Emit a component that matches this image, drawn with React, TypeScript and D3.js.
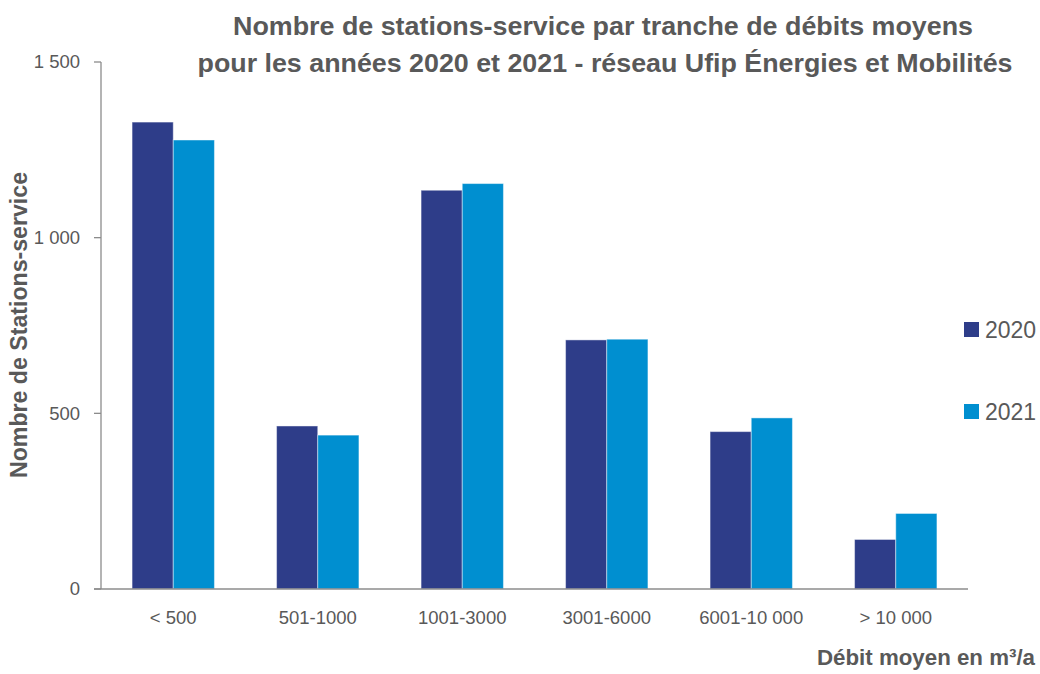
import React, { useEffect, useRef } from "react";
import * as d3 from "d3";

const categories = ["< 500", "501-1000", "1001-3000", "3001-6000", "6001-10 000", "> 10 000"];
const years = ["2020", "2021"];
const values2020 = [1329, 464, 1135, 709, 448, 141];
const values2021 = [1278, 438, 1154, 711, 487, 215];
const yTicks = [0, 500, 1000, 1500];
const colors = ["#2E3D89", "#008FD0"];

const FONT = "'Liberation Sans', Arial, sans-serif";
const GREY = "#595959";

const width = 1040;
const height = 674;

const App = () => {
  const ref = useRef<SVGSVGElement>(null);

  useEffect(() => {
    const svg = d3.select(ref.current);
    svg.selectAll("*").remove();

    const left = 101;
    const right = 968;
    const top = 62;
    const bottom = 589;

    const x = d3.scaleBand().domain(categories).range([left, right]).paddingInner(0.43).paddingOuter(0.215);
    const xs = d3.scaleBand().domain(years).range([0, x.bandwidth()]);
    const y = d3.scaleLinear().domain([0, 1500]).range([bottom, top]);

    const fmt = (v: number) => (v >= 1000 ? d3.format(",")(v).replace(",", " ") : String(v));

    // bars
    const series = [values2020, values2021];
    series.forEach((vals, si) => {
      svg
        .append("g")
        .selectAll("rect")
        .data(vals)
        .enter()
        .append("rect")
        .attr("x", (_d, i) => (x(categories[i]) as number) + (xs(years[si]) as number))
        .attr("y", (d) => y(d))
        .attr("width", xs.bandwidth())
        .attr("height", (d) => bottom - y(d))
        .attr("fill", colors[si])
        .attr("stroke", "rgba(255,255,255,0.45)")
        .attr("stroke-width", 1);
    });

    // y axis
    const yAxis = svg.append("g");
    yAxis
      .append("line")
      .attr("x1", left)
      .attr("x2", left)
      .attr("y1", top)
      .attr("y2", bottom)
      .attr("stroke", "#8c8c8c")
      .attr("stroke-width", 1.3);
    yTicks.forEach((t) => {
      yAxis
        .append("line")
        .attr("x1", left - 7)
        .attr("x2", left)
        .attr("y1", y(t))
        .attr("y2", y(t))
        .attr("stroke", "#8c8c8c")
        .attr("stroke-width", 1.3);
      yAxis
        .append("text")
        .attr("x", 80)
        .attr("y", y(t))
        .attr("dy", "0.35em")
        .attr("text-anchor", "end")
        .attr("fill", GREY)
        .style("font-family", FONT)
        .style("font-size", "18.5px")
        .text(fmt(t));
    });

    // x axis
    svg
      .append("line")
      .attr("x1", left - 7)
      .attr("x2", right)
      .attr("y1", bottom)
      .attr("y2", bottom)
      .attr("stroke", "#8c8c8c")
      .attr("stroke-width", 1.3);
    svg
      .append("g")
      .selectAll("text")
      .data(categories)
      .enter()
      .append("text")
      .attr("x", (d) => (x(d) as number) + x.bandwidth() / 2)
      .attr("y", 624)
      .attr("text-anchor", "middle")
      .attr("fill", GREY)
      .style("font-family", FONT)
      .style("font-size", "18.5px")
      .text((d) => d);

    // titles
    const titleLines = [
      { text: "Nombre de stations-service par tranche de débits moyens", x: 603, y: 35, len: 740 },
      { text: "pour les années 2020 et 2021 - réseau Ufip Énergies et Mobilités", x: 605, y: 72, len: 815 },
    ];
    titleLines.forEach((l) => {
      svg
        .append("text")
        .attr("x", l.x)
        .attr("y", l.y)
        .attr("text-anchor", "middle")
        .attr("textLength", l.len)
        .attr("lengthAdjust", "spacingAndGlyphs")
        .attr("fill", GREY)
        .style("font-family", FONT)
        .style("font-size", "25px")
        .style("font-weight", "bold")
        .text(l.text);
    });

    svg
      .append("text")
      .attr("transform", "translate(27, 325) rotate(-90)")
      .attr("text-anchor", "middle")
      .attr("textLength", 306)
      .attr("lengthAdjust", "spacingAndGlyphs")
      .attr("fill", GREY)
      .style("font-family", FONT)
      .style("font-size", "23px")
      .style("font-weight", "bold")
      .text("Nombre de Stations-service");

    svg
      .append("text")
      .attr("x", 1035)
      .attr("y", 665)
      .attr("text-anchor", "end")
      .attr("textLength", 218)
      .attr("lengthAdjust", "spacingAndGlyphs")
      .attr("fill", GREY)
      .style("font-family", FONT)
      .style("font-size", "22px")
      .style("font-weight", "bold")
      .text("Débit moyen en m³/a");

    // legend
    const legend = svg.append("g");
    years.forEach((yr, i) => {
      const cy = 330 + i * 82;
      legend
        .append("rect")
        .attr("x", 964)
        .attr("y", cy - 8)
        .attr("width", 15)
        .attr("height", 15)
        .attr("fill", colors[i]);
      legend
        .append("text")
        .attr("x", 985)
        .attr("y", cy)
        .attr("dy", "0.36em")
        .attr("fill", GREY)
        .style("font-family", FONT)
        .style("font-size", "23px")
        .text(yr);
    });
  }, []);

  return (
    <svg
      ref={ref}
      width={width}
      height={height}
      style={{ position: "absolute", left: 0, top: 0, background: "#fff" }}
    />
  );
};

export default App;
